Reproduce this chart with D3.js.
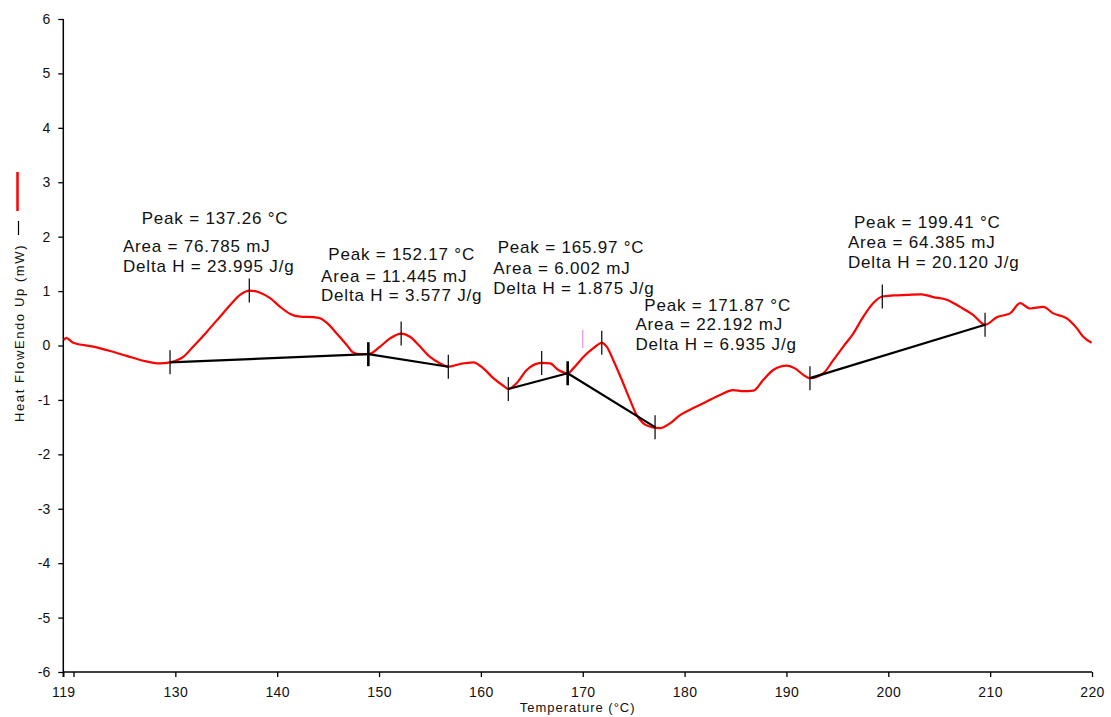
<!DOCTYPE html>
<html>
<head>
<meta charset="utf-8">
<script src="https://cdn.jsdelivr.net/npm/d3@7"></script>
<style>
  html, body { margin: 0; padding: 0; background: #fff; }
  svg { display: block; font-family: "Liberation Sans", Arial, sans-serif; }
</style>
</head>
<body>
<svg id="chart" width="1111" height="717"></svg>
<script>
// DSC heating scan: heat flow (endo up) against sample temperature
const temperature = [
  119.07, 119.27, 119.98, 121.95, 123.59, 125.22, 126.85, 128.49, 129.48, 130.78,
  131.76, 133.08, 134.39, 135.37, 136.35, 137.26, 138.33, 139.31, 140.29, 141.28,
  142.26, 143.55, 144.20, 144.86, 145.84, 146.83, 147.47, 148.13, 148.95, 150.10,
  151.08, 152.17, 153.04, 154.03, 155.01, 155.99, 156.80, 157.95, 159.26, 160.24,
  161.22, 162.20, 162.69, 163.52, 164.50, 165.97, 166.79, 167.60, 168.52, 169.07,
  170.06, 171.04, 171.87, 172.35, 173.00, 173.83, 174.64, 175.30, 175.95, 176.77,
  177.59, 178.57, 179.55, 180.86, 182.17, 183.48, 184.78, 185.76, 186.75, 187.73,
  188.71, 190.03, 190.84, 191.66, 192.31, 193.62, 194.60, 195.58, 196.56, 197.55,
  198.53, 199.41, 200.49, 201.81, 203.28, 204.42, 205.74, 207.04, 208.35, 209.50,
  210.65, 211.96, 212.94, 213.92, 215.22, 216.20, 217.52, 218.50, 219.14, 219.96
];
const heatFlow = [
  0.10, 0.14, 0.05, -0.02, -0.10, -0.19, -0.28, -0.33, -0.31, -0.21,
  -0.02, 0.25, 0.53, 0.74, 0.93, 1.01, 0.97, 0.87, 0.71, 0.58,
  0.53, 0.52, 0.50, 0.42, 0.22, 0.01, -0.13, -0.16, -0.16, -0.02,
  0.13, 0.22, 0.16, -0.02, -0.21, -0.33, -0.39, -0.34, -0.31, -0.42,
  -0.60, -0.74, -0.80, -0.69, -0.45, -0.32, -0.33, -0.45, -0.51, -0.42,
  -0.21, -0.05, 0.05, -0.02, -0.27, -0.63, -1.00, -1.28, -1.43, -1.50,
  -1.52, -1.43, -1.28, -1.15, -1.03, -0.91, -0.82, -0.84, -0.83, -0.63,
  -0.45, -0.37, -0.42, -0.54, -0.60, -0.51, -0.27, -0.02, 0.22, 0.53,
  0.78, 0.90, 0.92, 0.93, 0.94, 0.89, 0.84, 0.71, 0.56, 0.38,
  0.52, 0.59, 0.78, 0.68, 0.71, 0.59, 0.50, 0.32, 0.16, 0.05
];

// integration baselines, one straight segment per peak
const baseStartT = [129.48, 148.95, 162.69, 168.52, 192.31];
const baseStartY = [-0.31, -0.16, -0.80, -0.51, -0.60];
const baseEndT   = [148.95, 156.80, 168.52, 177.10, 209.50];
const baseEndY   = [-0.16, -0.39, -0.51, -1.50, 0.38];

// peak results
const peakT      = [137.26, 152.17, 165.97, 171.87, 199.41];
const peakY      = [1.01, 0.22, -0.32, 0.05, 0.90];
const peakArea   = ["76.785", "11.445", "6.002", "22.192", "64.385"];
const peakDeltaH = ["23.995", "3.577", "1.875", "6.935", "20.120"];

// cursor mark
const cursorT = [170.0];
const cursorY = [0.12];

// axis ticks
const xTickValues = [119, 120, 130, 140, 150, 160, 170, 180, 190, 200, 210, 220];
const xTickLabels = ["119", "", "130", "140", "150", "160", "170", "180", "190", "200", "210", "220"];
const yTickValues = [-6, -5, -4, -3, -2, -1, 0, 1, 2, 3, 4, 5, 6];

// text block placement, in pixels relative to each peak point
const annLayout = [
  { dx: -126.3, dy: -66.6, indent: 18.7, gaps: [28, 20] },
  { dx: -80.1,  dy: -73.5, indent: 7.3,  gaps: [21.7, 19] },
  { dx: -48.4,  dy: -109.9, indent: 4.4, gaps: [21, 20] },
  { dx: 33.7,   dy: -32,   indent: 8.8,  gaps: [19.5, 19.5] },
  { dx: -34.3,  dy: -68.2, indent: 6,    gaps: [20, 19.4] }
];

const svg = d3.select("#chart");
const x = d3.scaleLinear().domain([119, 220]).range([63.3, 1092]);
const y = d3.scaleLinear().domain([-6, 6]).range([672, 19]);

// axes
const xAxis = d3.axisBottom(x)
  .tickValues(xTickValues)
  .tickFormat((d, i) => xTickLabels[i])
  .tickSize(5).tickPadding(10);
const gx = svg.append("g").attr("transform", `translate(0,${y(-6)})`).call(xAxis);
gx.select(".domain").attr("d", `M${x(119)},0H${x(220)}`);

const yAxis = d3.axisLeft(y).tickValues(yTickValues).tickFormat(d => String(d))
  .tickSize(5).tickPadding(8);
const gy = svg.append("g").attr("transform", `translate(${x(119)},0)`).call(yAxis);
gy.select(".domain").attr("d", `M0,${y(6)}V${y(-6) + 5}`);

svg.selectAll(".domain").attr("stroke", "#000").attr("stroke-width", 1.5);
svg.selectAll(".tick line").attr("stroke", "#000").attr("stroke-width", 1.3);
svg.selectAll(".tick text").attr("fill", "#111").attr("font-size", 14)
  .attr("font-family", "'Liberation Sans', Arial, sans-serif");
gx.selectAll(".tick text").attr("letter-spacing", 0.4);

// axis titles
svg.append("text")
  .attr("x", (x(119) + x(220)) / 2).attr("y", 712)
  .attr("text-anchor", "middle").attr("font-size", 13).attr("letter-spacing", 1)
  .attr("fill", "#111").text("Temperature (°C)");

svg.append("text")
  .attr("transform", "translate(24,422) rotate(-90)")
  .attr("font-size", 13).attr("letter-spacing", 1.6)
  .attr("fill", "#111").text("Heat FlowEndo Up (mW)");

// series key beside the y title
svg.append("line").attr("x1", 17.5).attr("x2", 17.5).attr("y1", 172).attr("y2", 211)
  .attr("stroke", "#ff0000").attr("stroke-width", 2.5);
svg.append("line").attr("x1", 18.5).attr("x2", 18.5).attr("y1", 221).attr("y2", 235)
  .attr("stroke", "#000").attr("stroke-width", 1.2);

// heat flow curve
const curve = temperature.map((t, i) => [t, heatFlow[i]]);
svg.append("path")
  .datum(curve)
  .attr("fill", "none")
  .attr("stroke", "#ff0000")
  .attr("stroke-width", 2.2)
  .attr("stroke-linejoin", "round")
  .attr("d", d3.line().x(d => x(d[0])).y(d => y(d[1])).curve(d3.curveMonotoneX));

// baselines
const baseSegs = baseStartT.map((t, i) => [[t, baseStartY[i]], [baseEndT[i], baseEndY[i]]]);
svg.append("g").selectAll("path").data(baseSegs).join("path")
  .attr("fill", "none").attr("stroke", "#000").attr("stroke-width", 2.2)
  .attr("d", d3.line().x(d => x(d[0])).y(d => y(d[1])));

// limit markers (shared limits are drawn heavier)
const limits = baseSegs.flat();
const limitCount = d3.rollup(limits, v => v.length, d => d[0]);
const limitPts = Array.from(limitCount, ([t, n]) => [t, limits.find(p => p[0] === t)[1], n]);
svg.append("g").selectAll("line").data(limitPts).join("line")
  .attr("x1", d => x(d[0])).attr("x2", d => x(d[0]))
  .attr("y1", d => y(d[1]) - 12).attr("y2", d => y(d[1]) + 12)
  .attr("stroke", "#000").attr("stroke-width", d => d[2] > 1 ? 2.6 : 1.2);

// peak markers
svg.append("g").selectAll("line").data(peakT).join("line")
  .attr("x1", d => x(d)).attr("x2", d => x(d))
  .attr("y1", (d, i) => y(peakY[i]) - 12).attr("y2", (d, i) => y(peakY[i]) + 12)
  .attr("stroke", "#000").attr("stroke-width", 1.2);

// cursor
svg.append("g").selectAll("line").data(cursorT).join("line")
  .attr("x1", d => x(d)).attr("x2", d => x(d))
  .attr("y1", (d, i) => y(cursorY[i]) - 9).attr("y2", (d, i) => y(cursorY[i]) + 9)
  .attr("stroke", "#f08cf0").attr("stroke-width", 1.2);

// peak result text
const fmt = d3.format(".2f");
peakT.forEach((t, i) => {
  const L = annLayout[i];
  const left = x(t) + L.dx;
  const base = y(peakY[i]) + L.dy;
  const g = svg.append("g").attr("font-size", 17).attr("letter-spacing", 0.8).attr("fill", "#111");
  g.append("text").attr("x", left + L.indent).attr("y", base)
    .text(`Peak = ${fmt(t)} °C`);
  g.append("text").attr("x", left).attr("y", base + L.gaps[0])
    .text(`Area = ${peakArea[i]} mJ`);
  g.append("text").attr("x", left).attr("y", base + L.gaps[0] + L.gaps[1])
    .text(`Delta H = ${peakDeltaH[i]} J/g`);
});
</script>
</body>
</html>
